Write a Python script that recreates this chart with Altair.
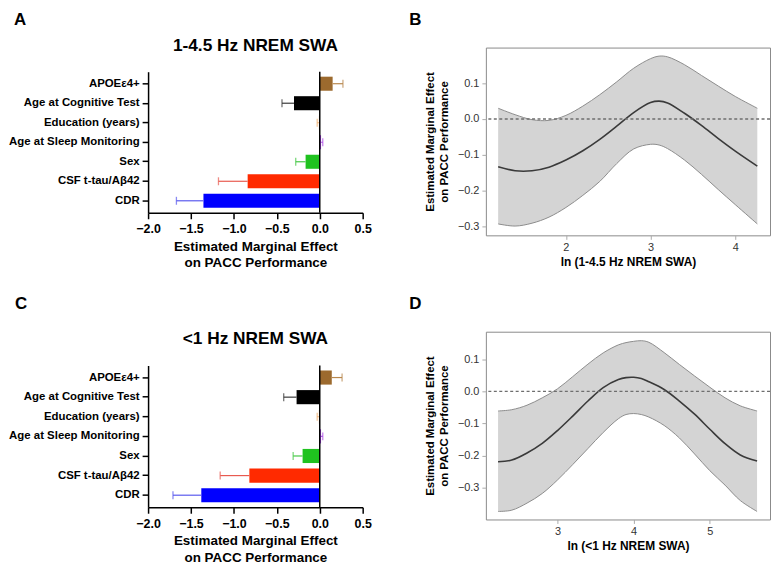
import altair as alt
import pandas as pd

FONT = "Liberation Sans"
INTERP = "catmull-rom"

# ---------------- bar panels (A, C) ----------------
categories = ["APOEε4+", "Age at Cognitive Test", "Education (years)",
              "Age at Sleep Monitoring", "Sex", "CSF t-tau/Aβ42", "CDR"]
bar_colors = ["#9c6a2e", "#000000", "#f2b26e", "#a23ee6", "#1fc21f", "#ff2a00", "#0000ff"]
err_colors = ["#b8884e", "#3a3a3a", "#f0b070", "#b050e8", "#45c845", "#e85a50", "#5a5aee"]

effect_a = [0.15, -0.30, -0.01, 0.015, -0.165, -0.84, -1.355]
errend_a = [0.27, -0.44, -0.03, 0.035, -0.28, -1.18, -1.67]
effect_c = [0.14, -0.27, -0.01, 0.015, -0.20, -0.82, -1.38]
errend_c = [0.26, -0.42, -0.03, 0.035, -0.31, -1.16, -1.71]

x_ticks_bar = [-2.0, -1.5, -1.0, -0.5, 0.0, 0.5]
bar_xtitle = ["Estimated Marginal Effect", "on PACC Performance"]

# ---------------- marginal effect panels (B, D) ----------------
x_b = [1.2, 1.4, 1.6, 1.8, 2.0, 2.2, 2.4, 2.6, 2.8, 3.0, 3.1, 3.2, 3.4, 3.6, 3.8, 4.0, 4.26]
mid_b = [-0.134, -0.145, -0.145, -0.135, -0.115, -0.089, -0.057, -0.020, 0.018, 0.046, 0.050,
         0.045, 0.016, -0.018, -0.055, -0.090, -0.132]
hi_b = [0.030, 0.012, -0.002, -0.004, 0.010, 0.036, 0.068, 0.104, 0.142, 0.169, 0.176,
        0.174, 0.152, 0.122, 0.092, 0.063, 0.030]
lo_b = [-0.294, -0.300, -0.292, -0.275, -0.248, -0.214, -0.175, -0.125, -0.084, -0.071, -0.073,
        -0.083, -0.115, -0.155, -0.198, -0.240, -0.294]

x_d = [2.22, 2.4, 2.6, 2.8, 3.0, 3.2, 3.4, 3.6, 3.8, 3.9, 4.0, 4.1, 4.2, 4.4, 4.6, 4.8, 5.0,
       5.2, 5.4, 5.62]
mid_d = [-0.219, -0.214, -0.192, -0.162, -0.122, -0.077, -0.030, 0.012, 0.037, 0.043, 0.044,
         0.040, 0.030, 0.006, -0.030, -0.071, -0.118, -0.163, -0.198, -0.217]
hi_d = [-0.061, -0.057, -0.043, -0.020, 0.008, 0.046, 0.085, 0.120, 0.145, 0.152, 0.156,
        0.158, 0.153, 0.121, 0.084, 0.048, 0.013, -0.020, -0.045, -0.061]
lo_d = [-0.374, -0.370, -0.348, -0.318, -0.276, -0.228, -0.178, -0.128, -0.085, -0.072, -0.069,
        -0.072, -0.080, -0.106, -0.145, -0.195, -0.247, -0.292, -0.340, -0.374]

y_ticks_me = [-0.3, -0.2, -0.1, 0.0, 0.1]
me_ytitle = ["Estimated Marginal Effect", "on PACC Performance"]


def text_layer(txt, x, y, size, align="left", weight="bold"):
    return alt.Chart(pd.DataFrame({"t": [txt]})).mark_text(
        font=FONT, fontSize=size, fontWeight=weight, align=align,
        baseline="alphabetic", color="#000000"
    ).encode(x=alt.value(x), y=alt.value(y), text="t:N")


def bar_panel(effect, errend, title, title_y, letter, letter_x, letter_y, top, bottom):
    df = pd.DataFrame({"cat": categories, "eff": effect, "err": errend,
                       "bc": bar_colors, "ec": err_colors})
    xscale = alt.Scale(domain=[-2, 0.5], nice=False, zero=False)
    yscale = alt.Scale(domain=categories, range=[top, bottom],
                       paddingInner=0.28, paddingOuter=0.255)
    xaxis = alt.Axis(values=x_ticks_bar, format=".1f", title=bar_xtitle, grid=False,
                     labelFlush=False, labelOverlap=False,
                     labelFontSize=12.5, labelFontWeight="bold", labelColor="#000",
                     labelPadding=4, domainColor="#000", domainWidth=1.5,
                     tickColor="#000", tickWidth=1.5, tickSize=6,
                     titleFontSize=13.5, titleFontWeight="bold", titleColor="#000",
                     titleLineHeight=17, titlePadding=4)
    yaxis = alt.Axis(title=None, labelFontSize=11.5, labelFontWeight="bold",
                     labelColor="#000", labelPadding=3, domainColor="#000",
                     domainWidth=1.5, tickColor="#000", tickWidth=1.5, tickSize=6,
                     grid=False)
    base = alt.Chart(df)
    X = alt.X("eff:Q", scale=xscale, axis=xaxis)
    Y = alt.Y("cat:N", scale=yscale, sort=categories, axis=yaxis)
    bars = base.mark_bar().encode(x=X, x2=alt.datum(0), y=Y,
                                  color=alt.Color("bc:N", scale=None))
    errs = base.mark_rule(strokeWidth=1.2).encode(
        x=X, x2="err:Q", y=Y, color=alt.Color("ec:N", scale=None))
    caps = base.mark_tick(thickness=1.3, size=8).encode(
        x=alt.X("err:Q", scale=xscale, axis=xaxis), y=Y,
        color=alt.Color("ec:N", scale=None))
    zero = alt.Chart(pd.DataFrame({"z": [0]})).mark_rule(
        color="#000", strokeWidth=1.5).encode(
        x=alt.datum(0), y=alt.value(top), y2=alt.value(bottom))
    ttl = text_layer(title, 108, title_y, 17.4, align="center")
    let = text_layer(letter, letter_x, letter_y, 17)
    return alt.layer(bars, errs, caps, zero, ttl, let).properties(width=216, height=bottom)


def me_panel(xs, mid, lo, hi, xdom, ydom, xticks, xtitle, letter, letter_y):
    df = pd.DataFrame({"x": xs, "mid": mid, "lo": lo, "hi": hi})
    xscale = alt.Scale(domain=xdom, nice=False, zero=False)
    yscale = alt.Scale(domain=ydom, nice=False, zero=False)
    xaxis = alt.Axis(values=xticks, format="d", title=xtitle, grid=False, domain=False,
                     labelFontSize=11, labelColor="#333", labelPadding=2,
                     tickColor="#aaa", tickSize=4, labelFlush=False,
                     titleFontSize=12, titleFontWeight="bold", titleColor="#000",
                     titlePadding=4)
    yaxis = alt.Axis(values=y_ticks_me, format=".1f", title=me_ytitle, grid=False,
                     domain=False, labelFontSize=11, labelColor="#333", labelPadding=3,
                     tickColor="#aaa", tickSize=4, labelFlush=False,
                     titleFontSize=11.5, titleFontWeight="bold", titleColor="#000",
                     titleLineHeight=13.5, titlePadding=8)
    X = alt.X("x:Q", scale=xscale, axis=xaxis)
    base = alt.Chart(df)
    area = base.mark_area(color="#d4d4d4", interpolate=INTERP).encode(
        x=X, y=alt.Y("lo:Q", scale=yscale, axis=yaxis), y2="hi:Q")
    e_lo = base.mark_line(color="#8c8c8c", strokeWidth=1, interpolate=INTERP).encode(
        x=X, y=alt.Y("lo:Q", scale=yscale, axis=yaxis))
    e_hi = base.mark_line(color="#8c8c8c", strokeWidth=1, interpolate=INTERP).encode(
        x=X, y=alt.Y("hi:Q", scale=yscale, axis=yaxis))
    m = base.mark_line(color="#3a3a3a", strokeWidth=1.6, interpolate=INTERP).encode(
        x=X, y=alt.Y("mid:Q", scale=yscale, axis=yaxis))
    zero = alt.Chart(pd.DataFrame({"z": [0]})).mark_rule(
        color="#6e6e6e", strokeDash=[3, 2.5], strokeWidth=1.4).encode(y=alt.datum(0))
    let = text_layer(letter, -77, letter_y, 17)
    return alt.layer(area, e_lo, e_hi, m, zero, let).properties(
        width=286, height=189,
        view=alt.ViewBackground(stroke="#8a8a8a", strokeWidth=1))


panel_a = bar_panel(effect_a, errend_a, "1-4.5 Hz NREM SWA", 3.4, "A", -135, -22.7, 24.3, 166.3)
panel_b = me_panel(x_b, mid_b, lo_b, hi_b, [1.055, 4.41], [-0.326, 0.2], [2, 3, 4],
                   "ln (1-4.5 Hz NREM SWA)", "B", -22.7)
panel_c = bar_panel(effect_c, errend_c, "<1 Hz NREM SWA", 12.4, "C", -134, -22.7, 34, 176.7)
panel_d = me_panel(x_d, mid_d, lo_d, hi_d, [2.06, 5.79], [-0.399, 0.186], [3, 4, 5],
                   "ln (<1 Hz NREM SWA)", "D", -22.7)

chart = alt.concat(panel_a, panel_b, panel_c, panel_d, columns=2,
                   spacing={"row": 97, "column": 124}, bounds="flush", align="each"
                   ).properties(padding={"left": 0, "top": 0, "right": 0, "bottom": 0}
                   ).configure(font=FONT).configure_view(strokeWidth=0)

chart.save("out.html", embed_options={"renderer": "svg", "actions": False})
